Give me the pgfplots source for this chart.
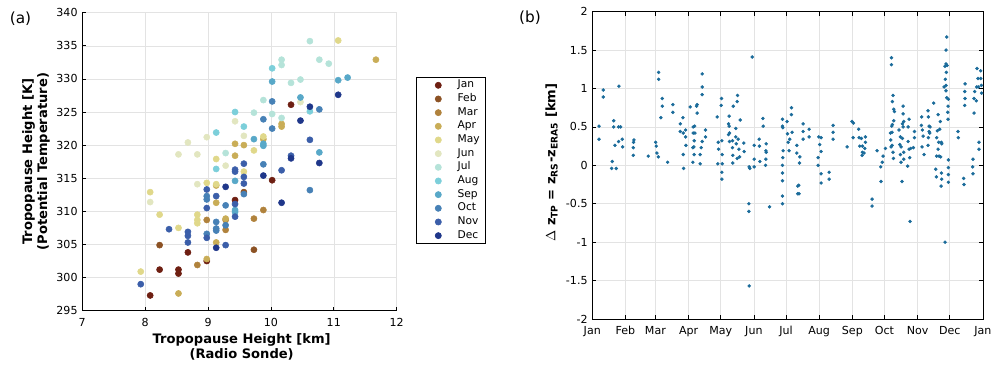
\documentclass[border=0pt]{standalone}
\usepackage{fontspec}
\setmainfont{DejaVu Sans}
\usepackage{pgfplots}
\pgfplotsset{compat=1.18}

\definecolor{cJan}{HTML}{6E1F12}
\definecolor{cFeb}{HTML}{8C5224}
\definecolor{cMar}{HTML}{B0823C}
\definecolor{cApr}{HTML}{C9AD57}
\definecolor{cMay}{HTML}{E0D88A}
\definecolor{cJun}{HTML}{E2E6C0}
\definecolor{cJul}{HTML}{B5E3D9}
\definecolor{cAug}{HTML}{7CCFDA}
\definecolor{cSep}{HTML}{58A8C8}
\definecolor{cOct}{HTML}{4781B6}
\definecolor{cNov}{HTML}{3B5EA9}
\definecolor{cDec}{HTML}{1F378A}
\definecolor{dotblue}{HTML}{1A6B9A}

\pgfplotsset{
  common/.style={
    scale only axis,
    /pgf/number format/assume math mode=true,
    ticklabel style={font=\fontsize{8.3}{10}\selectfont},
    xticklabel style={yshift=-2pt},
    label style={font=\fontsize{9.8}{11.25}\selectfont\bfseries, align=center},
    grid=major,
    grid style={gray!22, line width=0.4pt},
    major tick length=3pt,
    tick style={black, line width=0.5pt},
    axis line style={black, line width=0.5pt},
  },
  month/.style={only marks, mark=*, mark size=2.3pt, color=#1},
}

\begin{document}
\begin{tikzpicture}
\useasboundingbox (0,0) rectangle (752.25pt,-278.25pt);

\node[font=\fontsize{11.5}{13}\selectfont] at (15.4pt,-14.3pt) {(a)};
\node[font=\fontsize{11.5}{13}\selectfont] at (397.5pt,-13.1pt) {(b)};

% (a) potential temperature vs height, coloured by month
\begin{axis}[common,
  at={(61.7pt,-233.0pt)}, anchor=south west,
  width=235.8pt, height=223.5pt,
  xmin=7, xmax=12, ymin=295, ymax=340,
  xtick={7,8,...,12}, ytick={295,300,...,340},
  axis x line*=bottom, axis y line*=left,
  xlabel={Tropopause Height [km]\\(Radio Sonde)},
  ylabel={Tropopause Height [K]\\(Potential Temperature)},
  xlabel style={at={(axis description cs:0.507,-0.121)}, anchor=center},
  ylabel style={at={(axis description cs:-0.147,0.5)}, anchor=center},
  legend style={at={(1.0614,0.7842)}, anchor=north west, draw=black, line width=0.5pt,
    font=\fontsize{8}{9.5}\selectfont, cells={anchor=west}, row sep=0.25pt,
    inner xsep=3pt, inner ysep=1pt,
    nodes={inner xsep=1pt, inner ysep=0.5pt, text height=6.5pt, text depth=2.5pt}},
  legend image code/.code={\path[draw=none, fill=none] (0pt,0pt) -- (27pt,0pt);
    \draw plot[only marks] coordinates {(13.5pt,0pt)};},
]
\addplot[month=cJan] coordinates {(8.08,297.3) (8.23,301.2) (8.53,301.2) (8.53,300.6) (8.68,303.8) (8.98,302.5) (9.43,311.7) (10.02,314.7) (10.32,326.1)};
\addplot[month=cFeb] coordinates {(8.23,304.9) (9.57,312.9) (9.73,304.2)};
\addplot[month=cMar] coordinates {(8.83,301.9) (8.98,308.7) (9.28,308.7) (9.28,307.2) (9.73,308.9) (9.88,310.2)};
\addplot[month=cApr] coordinates {(8.53,297.6) (8.98,302.8) (9.13,313.9) (9.13,311.3) (9.13,305.3) (9.28,308.9) (9.43,320.2) (9.43,318.4) (9.57,320.0) (9.88,320.9) (10.17,323.2) (10.17,322.8) (11.67,332.9)};
\addplot[month=cMay] coordinates {(7.93,300.9) (8.08,312.9) (8.23,309.5) (8.53,307.5) (8.83,309.5) (8.83,308.7) (8.83,308.2) (8.98,314.3) (9.13,317.9) (9.13,314.1) (9.57,316.0) (9.73,319.2) (9.88,321.3) (11.07,335.8)};
\addplot[month=cJun] coordinates {(8.08,311.4) (8.53,318.6) (8.68,320.4) (8.83,318.6) (8.83,314.1) (8.98,321.2) (9.28,316.9) (9.43,323.6) (9.57,321.4) (10.47,326.5)};
\addplot[month=cJul] coordinates {(9.28,318.8) (9.73,324.9) (9.88,326.8) (10.02,324.7) (10.17,332.9) (10.17,332.1) (10.17,324.1) (10.32,329.4) (10.47,329.9) (10.62,335.7) (10.77,332.9) (10.92,332.3)};
\addplot[month=cAug] coordinates {(9.13,321.9) (9.13,316.4) (9.43,325.0) (9.57,322.8) (10.02,331.6) (10.62,325.1)};
\addplot[month=cSep] coordinates {(9.43,314.6) (9.43,310.2) (9.43,309.9) (9.73,320.9) (9.88,320.2) (9.88,319.9) (10.02,329.6) (10.47,327.2) (10.77,318.9) (11.07,329.8) (11.22,330.2)};
\addplot[month=cOct] coordinates {(8.98,312.3) (8.98,311.8) (8.98,306.6) (9.13,308.4) (9.13,307.4) (9.13,307.1) (9.28,310.9) (9.28,307.9) (9.57,312.6) (9.88,323.9) (9.88,317.1) (10.02,326.6) (10.02,322.5) (10.62,313.2) (10.77,325.4)};
\addplot[month=cNov] coordinates {(7.93,299.0) (8.38,307.3) (8.68,306.9) (8.68,306.3) (8.68,305.3) (8.98,313.3) (8.98,310.5) (8.98,306.0) (9.13,312.3) (9.28,304.9) (9.43,316.3) (9.43,316.0) (9.43,311.1) (9.43,309.2) (9.57,317.2) (9.57,315.2) (9.57,314.2) (10.17,316.2) (10.32,318.4) (10.62,320.8)};
\addplot[month=cDec] coordinates {(9.13,304.5) (9.28,313.7) (9.88,315.4) (10.17,311.3) (10.32,318.0) (10.47,323.7) (10.62,325.8) (10.77,317.3) (11.07,327.6)};
\legend{Jan,Feb,Mar,Apr,May,Jun,Jul,Aug,Sep,Oct,Nov,Dec}
\end{axis}

% (b) height difference over the year
\begin{axis}[common,
  at={(444.2pt,-239.25pt)}, anchor=south west,
  width=293.0pt, height=230.5pt,
  xmin=0, xmax=365, ymin=-2, ymax=2,
  xtick={0,31,59,90,120,151,181,212,243,273,304,334,365},
  xticklabels={Jan,Feb,Mar,Apr,May,Jun,Jul,Aug,Sep,Oct,Nov,Dec,Jan},
  ytick={-2,-1.5,...,2},
  ylabel={$\Delta$ z\textsubscript{TP} = z\textsubscript{RS}-z\textsubscript{ERA5} [km]},
  ylabel style={at={(axis description cs:-0.104,0.509)}, anchor=center},
]
\addplot[only marks, mark=*, mark size=1.1pt, color=dotblue] coordinates {
(6.3,0.51) (6.3,0.34) (10.3,0.98) (10.3,0.89) (18.7,0.05) (18.1,-0.04) (22.4,-0.04) (20.0,0.58) (20.0,0.50) (21.2,0.26) (24.6,0.31) (24.9,1.03) (24.6,0.50) (26.5,0.50) (28.0,0.34) (28.4,0.24) (38.9,0.33) (38.6,0.30) (38.3,0.23) (38.3,0.13) (52.3,0.12) (59.2,0.30) (59.8,0.25) (60.4,0.16) (61.7,0.11) (62.0,1.21) (62.0,1.12) (65.4,0.87) (65.4,0.77) (64.1,0.62) (70.4,0.04) (75.3,0.79) (75.3,0.69) (84.7,0.62) (82.2,0.54) (82.2,0.44) (85.0,0.42) (87.2,0.46) (87.2,0.37) (87.5,0.26) (85.0,0.14) (85.3,-0.04)
(91.5,0.76) (94.3,0.50) (95.6,0.51) (94.3,0.42) (95.9,0.42) (95.2,0.32) (94.9,0.24) (94.0,0.23) (95.2,0.14) (94.0,0.04) (98.0,0.79) (97.4,0.77) (98.0,0.68) (100.8,0.14) (100.8,0.02) (101.8,0.23) (102.7,1.02) (102.7,1.19) (102.7,0.92) (102.7,0.31) (105.8,0.46) (105.8,0.37) (116.7,0.63) (117.7,0.30) (118.0,0.21) (117.3,0.02) (121.4,0.02) (120.8,0.87) (120.5,0.78) (121.1,0.32) (121.4,0.14) (121.1,-0.09) (121.1,-0.18) (127.9,0.64) (127.3,0.54) (127.9,0.51) (128.2,0.42) (127.3,0.40) (128.2,0.31) (131.0,0.32) (131.0,0.23) (131.7,0.77) (131.3,0.13) (131.3,0.03) (134.1,0.48) (134.1,0.37) (134.5,0.28) (135.4,0.83) (135.7,0.91) (136.3,0.34) (137.0,0.21) (137.6,0.11) (135.4,0.09) (138.2,0.59) (141.6,0.29) (141.9,0.18) (149.4,1.41) (146.6,-0.02) (147.2,-0.04) (146.3,-0.50) (146.3,-0.60) (146.6,-1.57) (151.3,0.26) (151.3,0.08) (151.3,-0.02) (155.9,0.34) (156.2,0.25) (156.6,0.05) (159.4,0.61) (159.7,0.51) (162.5,0.28) (162.2,0.19) (162.5,0.17) (162.2,0.08) (161.9,0.00) (165.6,-0.54) (177.7,0.60) (177.7,0.51) (178.0,0.49) (178.3,0.19) (178.0,0.10) (177.7,0.00) (177.7,-0.10) (177.7,-0.20) (177.7,-0.40) (177.7,-0.50)
(182.0,0.57) (186.1,0.75) (186.1,0.66) (186.7,0.43) (182.4,0.41) (184.5,0.34) (183.0,0.30) (183.9,0.19) (191.1,0.26) (191.1,0.16) (193.9,0.11) (193.6,0.03) (192.0,-0.27) (192.9,-0.26) (192.0,-0.37) (193.2,-0.37) (197.0,0.54) (197.0,0.44) (197.0,0.34) (202.6,0.47) (202.6,0.37) (211.6,0.37) (213.8,0.36) (212.5,0.27) (213.8,0.18) (211.0,0.10) (211.0,0.00) (213.8,-0.11) (213.8,-0.23) (221.3,-0.09) (221.3,-0.18) (225.0,0.52) (225.0,0.43) (225.0,0.34) (238.1,0.24) (242.7,0.57) (244.0,0.55) (243.7,0.36) (248.9,0.47) (249.3,0.36) (251.4,0.35) (249.9,0.25) (252.4,0.25) (255.2,0.37) (255.2,0.30) (254.6,0.22) (252.4,0.17) (253.9,0.16) (252.1,0.13) (266.1,0.19) (271.7,0.12) (271.0,0.04) (269.5,-0.02) (269.8,-0.21) (261.4,-0.44) (261.4,-0.53)
(273.9,0.22) (279.5,1.40) (279.5,1.31) (281.0,0.91) (280.4,0.83) (281.7,0.73) (282.3,0.70) (281.7,0.58) (280.4,0.53) (279.8,0.51) (280.1,0.43) (278.6,0.42) (278.9,0.33) (280.1,0.26) (279.2,0.24) (281.0,0.17) (281.4,0.09) (290.4,0.77) (290.4,0.67) (291.0,0.57) (289.8,0.54) (290.4,0.50) (286.6,0.46) (287.9,0.37) (289.8,0.35) (287.3,0.27) (288.5,0.24) (291.0,0.17) (287.9,0.14) (288.5,0.04) (291.0,0.08) (289.4,-0.21) (296.0,0.60) (295.1,0.50) (295.1,0.31) (296.0,0.21) (297.5,0.22) (296.6,0.10) (294.7,-0.01) (300.0,0.23) (301.0,0.36) (301.0,0.44) (296.9,-0.73) (307.8,0.63) (307.5,0.52) (308.4,0.46) (309.1,0.38) (308.1,0.24) (310.0,0.14) (313.7,0.71) (314.0,0.63) (314.7,0.51) (315.6,0.50) (314.7,0.44) (315.3,0.42) (314.0,0.36) (313.7,0.26) (319.0,0.81) (322.4,0.45) (323.1,0.66) (324.6,0.47) (325.2,0.57) (321.8,0.36) (323.7,0.30) (326.2,0.30) (326.5,0.28) (323.1,0.21) (321.8,0.12) (324.0,0.12) (325.5,0.11) (320.9,-0.05) (321.5,-0.15) (326.2,-0.10) (326.5,-0.18) (325.9,-0.27) (331.2,1.67) (330.5,1.50) (330.5,1.32) (331.5,1.30) (329.6,1.29) (330.8,1.21) (329.9,1.12) (330.5,1.04) (328.7,1.02) (330.5,0.97) (331.2,0.88) (332.7,0.86) (332.4,0.77) (332.1,0.69) (332.4,0.60) (329.6,-1.00) (332.7,0.07) (332.7,-0.03) (332.7,-0.12) (332.7,-0.22) (341.7,0.44) (342.0,0.36) (348.3,1.06) (348.0,0.96) (348.3,0.87) (348.0,0.78) (347.0,-0.17) (347.3,-0.25) (356.7,0.68) (357.3,0.96) (356.7,0.87) (358.8,0.84) (359.2,1.02) (359.5,1.26) (362.9,1.23) (360.4,1.13) (362.9,1.13) (360.7,1.02) (363.5,1.04) (363.8,0.94) (361.3,0.30) (361.3,0.21) (355.7,0.08) (355.4,-0.02) (355.7,-0.11)
};
\end{axis}
\end{tikzpicture}
\end{document}
